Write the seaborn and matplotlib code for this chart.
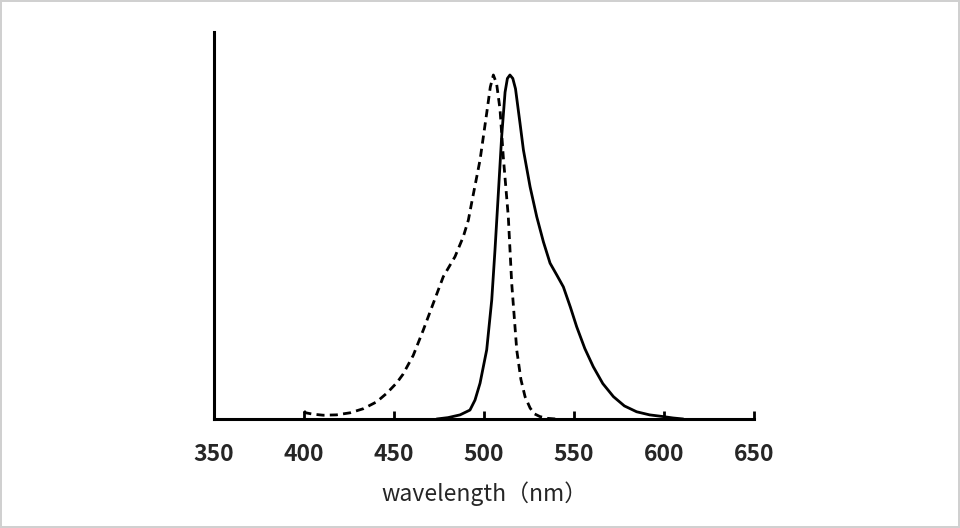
import numpy as np
import pandas as pd
import matplotlib
matplotlib.use('Agg')
import matplotlib.pyplot as plt
import seaborn as sns

# excitation spectrum (dashed), relative intensity %
ex_nm = [400, 401, 405, 410.7, 418, 425.6, 433, 440.4, 446, 451.5, 455, 460.7, 466.3,
         471.8, 477.4, 483.9, 488.5, 491.3, 493.2, 497.8, 501.5, 503.5, 505.2, 507, 508.9,
         510.7, 513.5, 515.4, 518.2, 520.5, 522.8, 525.6, 528, 531.1, 535, 540]
ex_val = [2.3, 1.8, 1.4, 1.1, 1.2, 1.8, 3.0, 5.0, 7.5, 10.5, 13.0, 18.5, 25.9,
          33.6, 41.4, 47.2, 53.0, 57.8, 63.0, 75.3, 88.9, 96.5, 100, 97.5, 90,
          76.3, 58.8, 39.4, 20, 11.5, 6.5, 3.2, 1.5, 0.7, 0.2, 0.0]

# emission spectrum (solid)
em_nm = [473.7, 480, 486.7, 492.2, 495, 497.8, 501.5, 504.3, 506.1, 507.9, 509.8,
         511.7, 513, 514.4, 516, 517.5, 520, 521.9, 525.6, 529.3, 533, 536.7,
         540.5, 544.1, 548, 551.5, 556, 560.7, 566, 571.9, 578, 584.8, 592, 599.6, 605, 610.7]
em_val = [0.0, 0.4, 1.2, 2.6, 5.5, 10.4, 20.1, 34.6, 49.1, 65.0, 82.0,
          95.0, 99.0, 100, 99, 96, 86, 78.2, 67.5, 58.8, 51.5, 45.3,
          41.8, 38.4, 32.5, 26.8, 20.5, 15.2, 10.3, 6.5, 3.8, 2.1, 1.2, 0.7, 0.3, 0.0]

x_ticks = [350, 400, 450, 500, 550, 600, 650]

ex = pd.DataFrame({'nm': ex_nm, 'val': ex_val})
em = pd.DataFrame({'nm': em_nm, 'val': em_val})

sns.set_style('white')
plt.rcParams['font.family'] = ['Noto Sans CJK JP', 'DejaVu Sans']

fig = plt.figure(figsize=(9.6, 5.28), dpi=100)
fig.patch.set_edgecolor('#d0d0d0')
fig.patch.set_linewidth(1.5)
ax = fig.add_axes([214 / 960, 109 / 528, 540 / 960, 387 / 528])

sns.lineplot(data=ex, x='nm', y='val', ax=ax, color='black', linewidth=2.0,
             linestyle=(0, (2.9, 1.9)), estimator=None, sort=False)
sns.lineplot(data=em, x='nm', y='val', ax=ax, color='black', linewidth=2.0,
             estimator=None, sort=False)

ax.set_xlim(350, 650)
ax.set_ylim(0, 112.5)
ax.set_xticks(x_ticks)
ax.set_xticklabels([str(t) for t in x_ticks], fontweight='bold', fontsize=16.5)
ax.set_yticks([])
ax.tick_params(axis='x', direction='in', length=6, width=2, color='black', pad=17)
ax.xaxis.set_ticks_position('bottom')
for side in ['top', 'right']:
    ax.spines[side].set_visible(False)
for side in ['left', 'bottom']:
    ax.spines[side].set_color('black')
    ax.spines[side].set_linewidth(2.2)
ax.set_xlabel('wavelength（nm）', fontsize=16.5, labelpad=11)
ax.set_ylabel('')

fig.savefig('out.png', dpi=100, edgecolor=fig.get_edgecolor())
